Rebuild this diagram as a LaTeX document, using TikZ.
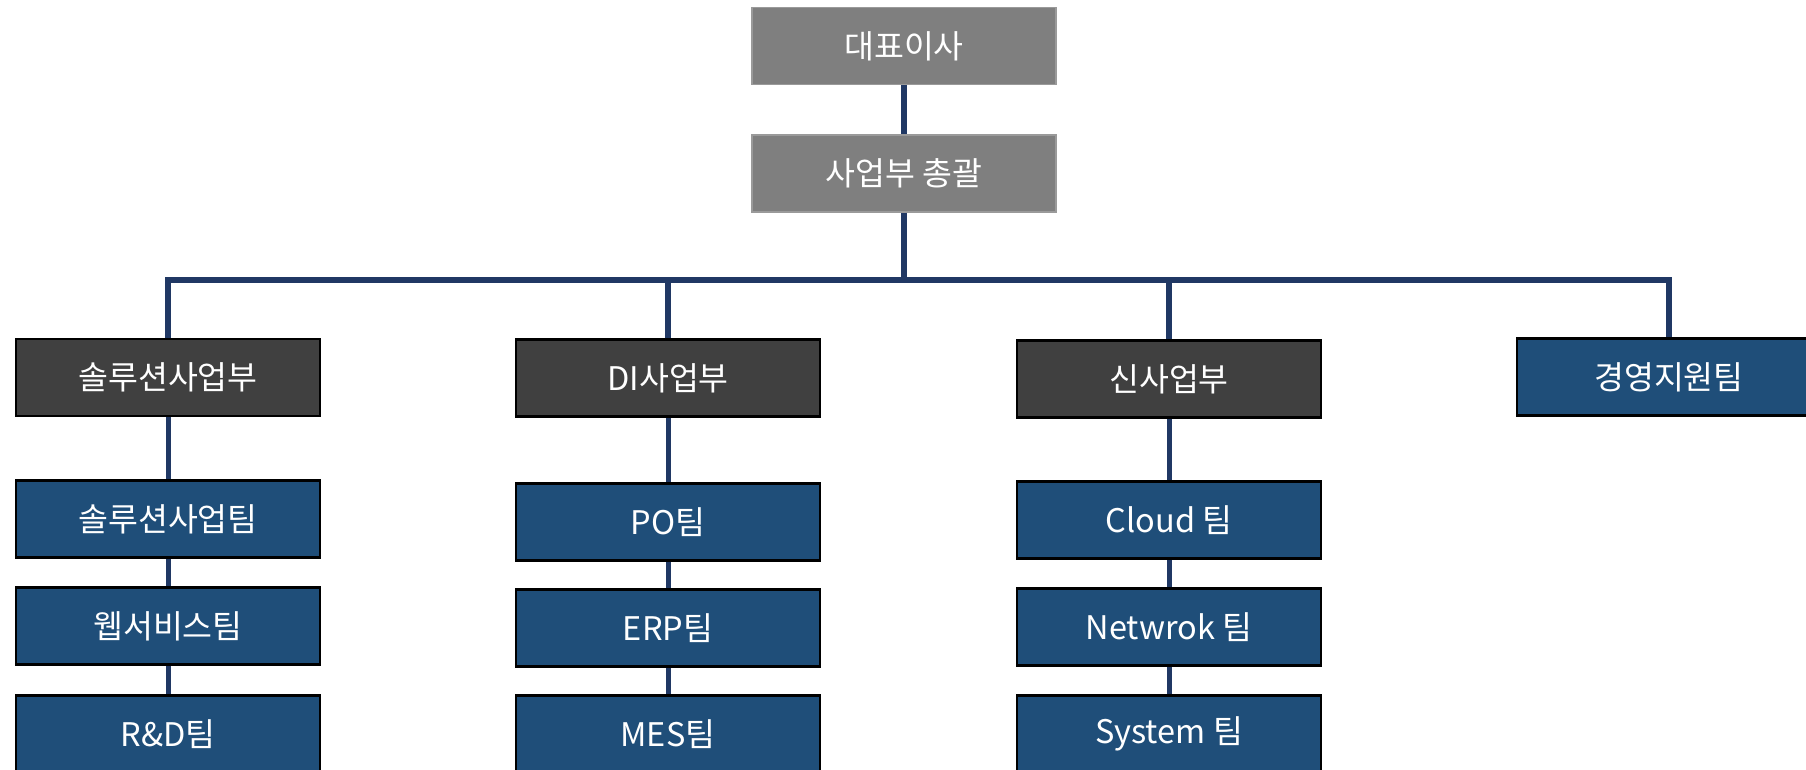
\documentclass[tikz,border=0pt]{standalone}
\usepackage{fontspec}
\setmainfont{Noto Sans CJK KR}
\definecolor{topgray}{HTML}{7F7F7F}
\definecolor{topedge}{HTML}{9A9A9A}
\definecolor{darkbox}{HTML}{404040}
\definecolor{bluebox}{HTML}{1F4E79}
\definecolor{linkblue}{HTML}{203864}
\tikzset{
  box/.style={minimum width=304pt, minimum height=77pt, inner sep=0pt, text=white,
    font=\fontsize{32.5}{38}\selectfont},
  topbox/.style={box, fill=topgray, draw=topedge, line width=1.5pt},
  deptbox/.style={box, fill=darkbox, draw=black, line width=2.5pt},
  teambox/.style={box, fill=bluebox, draw=black, line width=2.5pt},
  link/.style={draw=linkblue, line width=6pt},
  thinlink/.style={draw=linkblue, line width=5pt}
}
\begin{document}
\begin{tikzpicture}[x=1pt, y=-1pt]
\useasboundingbox (0,0) rectangle (1806,770);
\clip (0,0) rectangle (1806,770);
\coordinate (bus) at (904,280);
\node[topbox] (ceo) at (904,46) {대표이사};
\node[topbox] (gen) at (904,173.5) {사업부 총괄};
\node[deptbox] (sol) at (168,377.5) {솔루션사업부};
\node[deptbox] (di) at (668,378) {DI사업부};
\node[deptbox] (new) at (1169,379) {신사업부};
\node[teambox] (mgmt) at (1669,377) {경영지원팀};
\node[teambox] (solt) at (168,519) {솔루션사업팀};
\node[teambox] (web) at (168,626) {웹서비스팀};
\node[teambox] (rnd) at (168,734) {R\&D팀};
\node[teambox] (po) at (668,522) {PO팀};
\node[teambox] (erp) at (668,628) {ERP팀};
\node[teambox] (mes) at (668,734) {MES팀};
\node[teambox] (cloud) at (1169,520) {Cloud 팀};
\node[teambox] (net) at (1169,627) {Netwrok 팀};
\node[teambox] (sys) at (1169,734) {System 팀};
\draw[link] (ceo.south) -- (gen.north);
\draw[link] (gen.south) -- (bus);
\draw[link, line join=miter] (sol.north) |- (bus);
\draw[link, line join=miter] (mgmt.north) |- (bus);
\draw[link] (di.north) -- (di.north |- bus);
\draw[link] (new.north) -- (new.north |- bus);
\draw[thinlink] (sol.south) -- (solt.north);
\draw[thinlink] (solt.south) -- (web.north);
\draw[thinlink] (web.south) -- (rnd.north);
\draw[thinlink] (di.south) -- (po.north);
\draw[thinlink] (po.south) -- (erp.north);
\draw[thinlink] (erp.south) -- (mes.north);
\draw[thinlink] (new.south) -- (cloud.north);
\draw[thinlink] (cloud.south) -- (net.north);
\draw[thinlink] (net.south) -- (sys.north);
\end{tikzpicture}
\end{document}
